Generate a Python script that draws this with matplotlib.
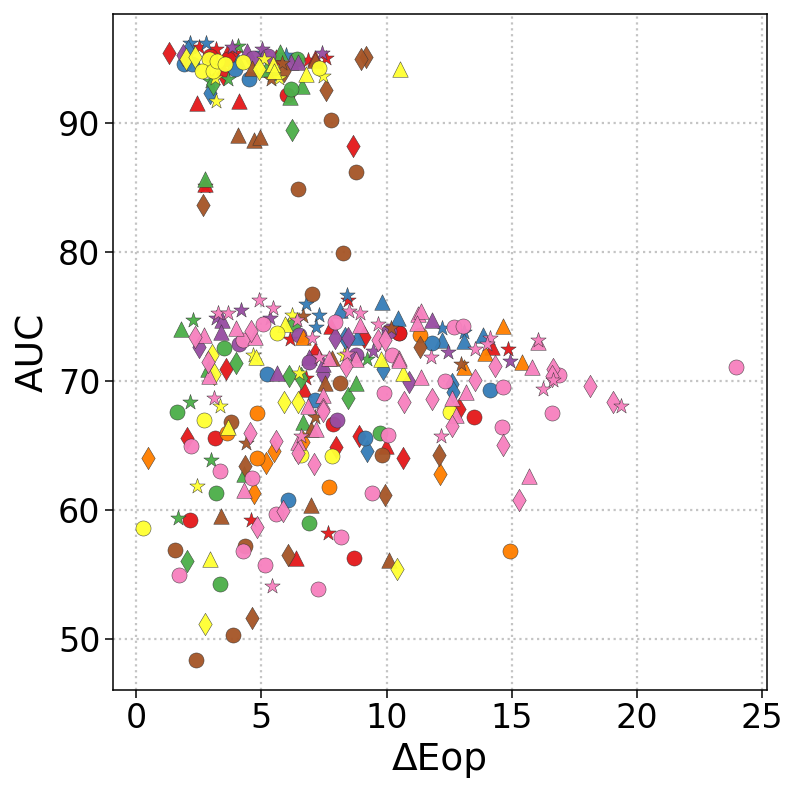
import matplotlib
matplotlib.use("Agg")
import matplotlib.pyplot as plt

# Values: (dEop, AUC) per colour / marker group
red_circle = [(2.14,59.2),(8.72,56.3),(3.15,65.6),(7.87,66.65),(13.48,67.25),(10.48,73.75),(10.5,73.7),(6.01,92.2),(2.95,95.2),(3.68,94.95)]
red_tri = [(6.37,56.25),(9.96,65.0),(6.69,69.4),(7.77,74.3),(14.2,72.6),(2.43,91.55),(4.12,91.7),(3.62,95.45),(5.57,95.15),(7.14,95.05),(2.75,85.3)]
red_diamond = [(2.05,65.6),(8.91,65.75),(10.64,64.0),(7.98,64.9),(3.6,70.95),(7.16,72.1),(9.09,73.45),(12.9,67.8),(1.3,95.4),(3.48,93.8),(8.65,88.2)]
red_star = [(4.57,59.2),(7.67,58.2),(6.13,73.25),(8.47,76.3),(6.77,70.25),(14.83,72.45),(2.5,95.9),(3.19,95.75),(3.95,95.45),(6.87,94.9),(7.57,95.05),(2.75,85.1)]

blue_circle = [(6.06,60.8),(9.14,65.6),(7.16,68.5),(5.24,70.55),(11.8,72.95),(14.15,69.3),(1.93,94.55),(2.22,94.55),(3.95,94.15),(4.51,93.45)]
blue_tri = [(8.15,75.5),(9.83,76.1),(10.45,74.85),(8.83,73.4),(12.2,73.2),(13.1,73.1),(13.85,73.55),(4.08,94.8)]
blue_diamond = [(9.21,64.55),(8.33,73.35),(9.87,70.9),(12.6,69.8),(12.65,69.15),(2.09,95.6),(2.95,92.3)]
blue_star = [(6.8,76.0),(7.31,75.1),(7.2,74.15),(8.43,76.65),(12.2,74.1),(13.08,73.8),(2.14,96.2),(2.79,96.2),(5.01,95.45),(5.97,95.3)]

green_circle = [(6.9,59.0),(3.35,54.25),(3.19,61.3),(1.65,67.6),(9.75,65.95),(3.53,72.55),(6.27,74.45),(6.41,95.0),(6.17,92.6)]
green_tri = [(6.65,66.8),(4.31,62.8),(1.8,74.05),(2.87,70.95),(8.77,69.85),(5.74,95.5),(5.17,94.15),(6.64,92.9),(6.14,92.05),(2.75,85.65)]
green_diamond = [(2.05,56.05),(8.46,68.7),(4.01,71.4),(6.11,70.4),(6.57,70.25),(6.21,89.45),(3.09,93.0)]
green_star = [(1.69,59.35),(2.15,68.4),(2.99,63.85),(2.27,74.7),(9.24,71.7),(4.08,96.0),(2.95,93.25),(3.68,93.45),(5.42,93.7)]

purple_circle = [(8.03,66.95),(4.1,72.9),(6.49,73.6),(6.89,71.5),(8.77,72.05),(10.1,73.9),(4.65,95.05),(5.28,95.2)]
purple_tri = [(3.43,74.75),(3.4,73.8),(5.61,70.6),(6.91,71.9),(7.47,71.35),(11.8,74.7),(4.41,95.55),(6.17,94.7),(6.45,94.7)]
purple_diamond = [(2.53,72.65),(7.96,73.35),(8.47,73.35),(7.47,70.55),(10.91,69.9),(1.89,95.3)]
purple_star = [(3.2,74.9),(4.2,75.5),(5.36,74.9),(9.47,72.3),(12.47,72.25),(14.92,71.55),(3.82,95.9),(5.01,95.7),(7.41,95.45)]

orange_circle = [(14.92,56.8),(4.83,67.5),(3.62,65.95),(4.83,64.0),(7.69,61.75),(11.35,73.55)]
orange_tri = [(6.67,73.4),(13.09,71.05),(13.95,72.15),(14.64,74.3),(15.39,71.5)]
orange_diamond = [(0.47,64.0),(5.17,63.65),(5.5,64.6),(4.72,61.35),(6.65,65.3),(12.15,62.8)]

yellow_circle = [(0.29,58.6),(2.7,67.0),(6.58,64.3),(7.82,64.15),(5.63,73.7),(12.52,67.6),(2.9,94.95),(2.65,94.05),(3.08,94.05),(3.22,94.8),(3.54,94.55),(4.27,94.7),(7.29,94.3)]
yellow_tri = [(2.97,56.2),(3.68,66.4),(4.8,71.9),(5.93,74.45),(9.76,71.7),(10.67,70.65),(10.53,94.15),(5.45,94.55),(5.5,94.05),(6.78,93.8)]
yellow_diamond = [(2.74,51.2),(10.41,55.4),(5.89,68.4),(6.48,68.4),(3.04,72.0),(3.13,70.55),(1.98,95.0),(2.37,95.15),(4.92,94.2)]
yellow_star = [(2.43,61.9),(3.37,68.05),(4.67,72.05),(6.24,75.1),(6.51,70.6),(8.31,72.0),(3.18,91.7),(3.15,93.5),(5.09,95.0),(5.7,93.5),(7.47,93.65)]

brown_circle = [(1.56,56.9),(4.35,57.2),(3.87,50.3),(2.38,48.4),(3.79,66.85),(9.8,64.25),(8.15,69.85),(7.04,76.75),(8.26,79.95),(6.47,84.9),(8.78,86.2),(7.79,90.2)]
brown_tri = [(3.39,59.5),(7.0,60.4),(10.08,56.1),(6.97,66.3),(7.53,69.85),(7.83,71.8),(4.61,94.3),(7.14,94.9),(4.08,89.1),(4.72,88.65),(4.96,88.9)]
brown_diamond = [(6.08,56.5),(4.64,51.65),(9.92,61.15),(4.35,63.4),(11.35,72.65),(12.1,64.3),(2.67,83.65),(7.57,92.55),(9.18,95.15),(9.0,95.0),(5.9,94.0)]
brown_star = [(4.39,65.2),(7.14,67.2),(6.68,75.05),(10.16,74.1),(12.96,71.3),(5.81,94.65),(5.37,93.45)]

pink_circle = [(1.72,55.0),(4.27,56.8),(5.13,55.75),(7.25,53.9),(8.2,57.9),(5.58,59.7),(2.19,64.95),(3.36,63.05),(4.64,62.45),(9.41,61.35),(10.05,65.8),(5.05,74.4),(4.29,73.15),(7.96,74.55),(9.89,69.1),(10.21,72.05),(12.32,70.0),(12.68,74.2),(13.05,74.3),(14.64,69.5),(14.61,66.45),(16.59,67.5),(16.9,70.45),(23.96,71.1)]
pink_tri = [(4.32,61.55),(6.45,65.3),(7.2,66.3),(6.87,68.1),(7.47,68.95),(2.73,73.6),(3.99,74.1),(4.73,73.4),(2.93,70.4),(7.71,71.8),(8.77,71.7),(8.93,74.35),(10.51,71.75),(10.5,71.6),(11.27,75.2),(11.39,75.4),(11.2,74.5),(11.39,70.35),(13.16,69.15),(12.6,68.65),(12.79,67.4),(15.79,71.1),(16.03,73.0),(15.7,62.6)]
pink_diamond = [(4.83,58.7),(5.86,59.95),(15.3,60.8),(4.53,65.95),(5.59,65.35),(6.45,64.45),(7.1,63.6),(7.46,67.8),(10.7,68.35),(7.47,67.7),(2.37,73.4),(4.6,73.9),(2.89,71.45),(8.4,71.2),(9.65,73.2),(9.93,73.15),(11.83,68.6),(13.53,70.05),(12.63,66.5),(14.33,71.2),(14.67,65.05),(16.65,70.9),(16.6,70.4),(18.13,69.6),(19.05,68.4)]
pink_star = [(5.43,54.1),(3.1,68.7),(6.58,65.7),(3.29,75.3),(3.69,75.3),(4.91,76.3),(5.48,75.65),(6.43,74.7),(7.04,73.35),(7.31,71.85),(8.49,75.4),(8.93,75.3),(9.64,74.4),(8.44,72.1),(11.79,71.85),(13.52,72.45),(14.15,73.3),(14.0,72.9),(12.19,65.75),(16.03,73.15),(16.65,70.05),(16.23,69.4),(19.35,68.05)]

groups = [
    ("#e41a1c", [("*", red_star), ("d", red_diamond), ("^", red_tri), ("o", red_circle)]),
    ("#377eb8", [("*", blue_star), ("d", blue_diamond), ("^", blue_tri), ("o", blue_circle)]),
    ("#4daf4a", [("*", green_star), ("d", green_diamond), ("^", green_tri), ("o", green_circle)]),
    ("#984ea3", [("*", purple_star), ("d", purple_diamond), ("^", purple_tri), ("o", purple_circle)]),
    ("#ff7f00", [("d", orange_diamond), ("^", orange_tri), ("o", orange_circle)]),
    ("#a65628", [("o", brown_circle), ("^", brown_tri), ("d", brown_diamond), ("*", brown_star)]),
    ("#ffff33", [("*", yellow_star), ("d", yellow_diamond), ("^", yellow_tri), ("o", yellow_circle)]),
    ("#f781bf", [("o", pink_circle), ("^", pink_tri), ("d", pink_diamond), ("*", pink_star)]),
]
sizes = {"o": 118, "^": 125, "d": 130, "*": 135}

W, H = 797, 795
fig = plt.figure(figsize=(W / 100, H / 100), dpi=100)
ax = fig.add_axes([113 / W, (H - 690) / H, 654 / W, 676 / H])

for color, members in groups:
    for marker, pts in members:
        ax.scatter([p[0] for p in pts], [p[1] for p in pts], s=sizes[marker], marker=marker,
                   c=color, edgecolors="#333333", linewidths=0.35, alpha=0.96, zorder=3)

ax.set_xlim(-0.92, 25.19)
ax.set_ylim(46.05, 98.45)
ax.set_xticks([0, 5, 10, 15, 20, 25])
ax.set_yticks([50, 60, 70, 80, 90])
ax.grid(True, linestyle=":", color="#c4c4c4", linewidth=1.6)
ax.set_axisbelow(True)
ax.tick_params(labelsize=24, length=5.5, width=1.1)
ax.set_xlabel("ΔEop", fontsize=27, labelpad=5)
ax.set_ylabel("AUC", fontsize=27, labelpad=5)
for s in ax.spines.values():
    s.set_linewidth(1.1)

fig.savefig("out.png", dpi=100)
